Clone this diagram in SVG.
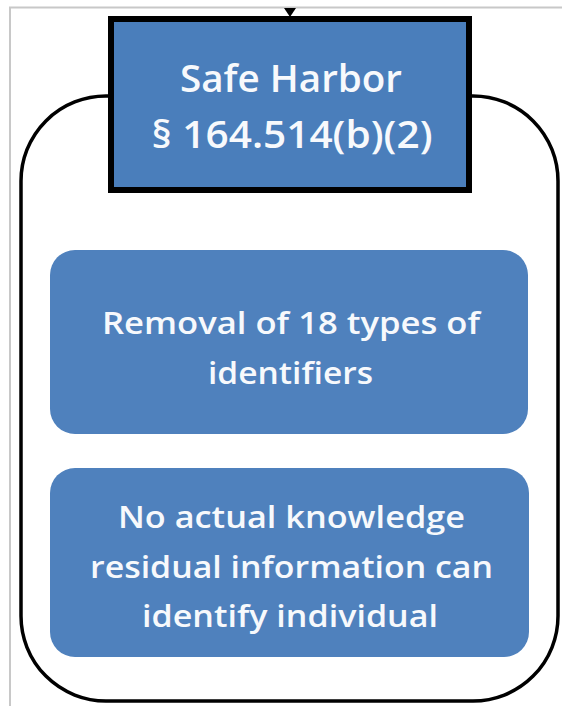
<svg xmlns="http://www.w3.org/2000/svg" width="562" height="706" viewBox="0 0 562 706">
  <style>
    .frame { fill: none; stroke: #c8c8c8; stroke-width: 2; }
    .container { fill: #ffffff; stroke: #000000; stroke-width: 3.5; }
    .header { fill: #4a7ebb; stroke: #000000; stroke-width: 6; }
    .card { fill: #4f81bd; stroke: none; }
    .lbl { fill: #f7f9fc; font-family: "Open Sans", "Noto Sans", "Liberation Sans", sans-serif; font-weight: 600; text-anchor: middle; }
    .hdr { font-size: 37px; }
    .body { font-size: 31px; }
  </style>
  <rect x="0" y="0" width="562" height="706" fill="#ffffff"/>
  <path class="frame" d="M10,706 V7.5 H562"/>
  <g id="container">
    <rect class="container" x="21" y="96" width="537" height="605" rx="85" ry="85"/>
  </g>
  <g id="connectors">
    <polygon points="284,8 296,8 290,17" fill="#000000"/>
  </g>
  <g id="header">
    <rect class="header" x="111" y="19" width="358" height="171"/>
    <text class="lbl hdr" x="291" y="92" textLength="222" lengthAdjust="spacingAndGlyphs">Safe Harbor</text>
    <text class="lbl hdr" x="292" y="148" textLength="281" lengthAdjust="spacingAndGlyphs">§ 164.514(b)(2)</text>
  </g>
  <g id="removal">
    <rect class="card" x="50" y="250" width="478" height="184" rx="25" ry="25"/>
    <text class="lbl body" x="291" y="334" textLength="378" lengthAdjust="spacingAndGlyphs">Removal of 18 types of</text>
    <text class="lbl body" x="290.5" y="384" textLength="165" lengthAdjust="spacingAndGlyphs">identifiers</text>
  </g>
  <g id="knowledge">
    <rect class="card" x="50" y="468" width="479" height="189" rx="25" ry="25"/>
    <text class="lbl body" x="291.5" y="528" textLength="347" lengthAdjust="spacingAndGlyphs">No actual knowledge</text>
    <text class="lbl body" x="291.5" y="578" textLength="403" lengthAdjust="spacingAndGlyphs">residual information can</text>
    <text class="lbl body" x="290" y="627" textLength="296" lengthAdjust="spacingAndGlyphs">identify individual</text>
  </g>
</svg>
